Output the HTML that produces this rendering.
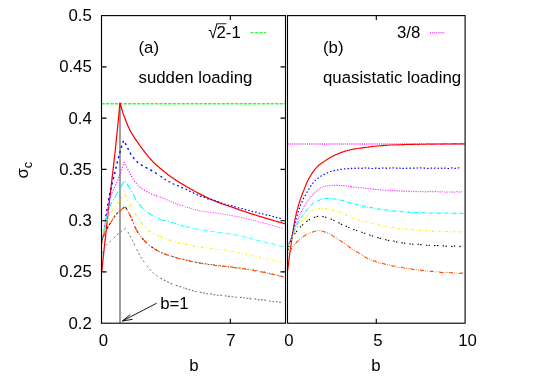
<!DOCTYPE html>
<html><head><meta charset="utf-8"><title>plot</title>
<style>
html,body{margin:0;padding:0;background:#fff;}
svg{display:block}
text{font-family:"Liberation Sans",sans-serif;font-size:16.8px;fill:#000}
</style></head><body>
<svg width="545" height="377" viewBox="0 0 545 377">
<rect width="545" height="377" fill="#fff"/>
<g stroke-linecap="butt" stroke-linejoin="round">
<path d="M101.5 103.7H285.5" stroke="#2cff2c" stroke-width="1.35" stroke-dasharray="3.25 1.2" fill="none"/>
<path d="M288.0 144H465.1" stroke="#ff30ff" stroke-width="1.5" stroke-dasharray="0.9 1" fill="none"/>
<path d="M250.5 32.6H266" stroke="#2cff2c" stroke-width="1.35" stroke-dasharray="3.25 1.2" fill="none"/>
<path d="M430 32.7H445.2" stroke="#ff30ff" stroke-width="1.4" stroke-dasharray="0.9 1" fill="none"/>
<path d="M120 323.2V103" stroke="#777" stroke-width="1.4" fill="none"/>
<path d="M101.7 271.8L102.7 262.8L103.6 253.8L104.6 244.9L105.6 236.1L106.0 232.0L106.5 227.3L107.5 218.7L108.4 210.2L109.4 201.7L110.4 193.2L110.9 188.5L111.3 184.7L112.3 176.3L113.3 167.9L114.2 159.5L115.2 150.8L115.7 146.0L116.1 141.8L117.1 132.4L118.1 122.8L119.0 113.0L120.0 102.9L121.0 106.5L122.0 109.9L122.8 112.5L123.0 113.1L124.0 115.9L125.0 118.6L126.0 121.1L126.1 121.4L127.0 123.5L128.0 125.9L129.0 128.1L130.0 130.2L130.6 131.4L131.0 132.0L131.9 133.7L132.8 135.0L132.9 135.2L133.9 136.8L134.9 138.3L135.9 139.8L136.9 141.3L137.2 141.7L137.9 142.7L138.9 144.2L139.9 145.6L140.9 146.9L141.9 148.3L142.8 149.5L142.9 149.6L143.9 151.0L144.9 152.3L145.9 153.6L146.9 154.9L147.9 156.1L148.4 156.7L148.9 157.3L149.9 158.4L150.9 159.5L151.9 160.6L152.9 161.7L153.9 162.7L154.0 162.8L154.9 163.6L155.8 164.5L156.8 165.4L157.8 166.3L158.8 167.1L159.8 168.0L160.8 168.8L161.7 169.5L161.8 169.6L162.8 170.4L163.8 171.2L164.8 172.0L165.8 172.8L166.8 173.6L167.8 174.4L168.8 175.2L169.8 175.9L170.7 176.6L170.8 176.7L171.8 177.4L172.8 178.1L173.8 178.8L174.8 179.4L175.0 179.6L175.8 180.1L176.8 180.7L177.8 181.4L178.8 182.0L179.7 182.6L180.7 183.2L181.7 183.8L182.7 184.4L183.7 184.9L184.7 185.5L185.7 186.1L185.9 186.2L186.7 186.7L187.7 187.3L188.7 187.8L189.7 188.4L190.7 189.0L191.7 189.5L192.7 190.1L193.7 190.7L194.7 191.2L195.7 191.8L196.7 192.3L197.7 192.9L198.7 193.4L199.7 193.9L200.7 194.4L201.7 194.9L201.8 195.0L202.7 195.4L203.6 195.9L204.6 196.4L205.6 196.9L206.6 197.3L207.6 197.8L208.6 198.2L209.6 198.7L210.6 199.1L211.6 199.6L212.6 200.0L213.6 200.4L214.6 200.8L215.6 201.3L216.6 201.7L217.6 202.1L217.7 202.1L218.6 202.4L219.6 202.8L220.6 203.2L221.6 203.6L222.6 203.9L223.6 204.3L224.6 204.6L225.6 205.0L226.5 205.3L227.5 205.6L228.5 206.0L229.5 206.3L230.5 206.7L231.5 207.0L232.5 207.3L233.5 207.7L233.6 207.7L234.5 208.0L235.5 208.4L236.5 208.7L237.5 209.1L238.5 209.4L239.5 209.8L240.5 210.1L241.5 210.4L242.5 210.8L243.5 211.1L244.5 211.5L245.5 211.8L246.5 212.1L247.5 212.5L248.5 212.8L249.5 213.1L250.0 213.3L250.4 213.4L251.4 213.8L252.4 214.1L253.4 214.4L254.4 214.7L255.4 215.0L256.4 215.3L257.4 215.7L258.4 216.0L259.4 216.3L260.4 216.6L261.4 216.9L262.4 217.2L263.4 217.5L264.4 217.8L265.4 218.1L266.4 218.4L267.4 218.7L268.4 219.0L269.4 219.3L270.4 219.6L271.4 219.9L272.4 220.2L273.4 220.5L274.3 220.8L275.3 221.0L276.3 221.3L277.3 221.6L278.3 221.9L279.3 222.2L280.3 222.4L281.3 222.7L282.3 223.0L283.3 223.3L284.3 223.5L285.3 223.8" fill="none" stroke="#ff0000" stroke-width="1.25"/>
<path d="M101.7 243.0L102.7 237.6L103.7 231.9L104.0 230.0L104.7 225.6L105.7 218.6L106.7 211.5L107.7 204.8L108.5 200.0L108.7 199.1L109.7 194.2L110.7 189.7L111.7 185.4L112.7 181.4L113.6 177.5L114.6 173.5L115.0 172.0L115.6 169.4L116.6 165.2L117.6 161.1L118.6 157.1L119.6 153.4L120.0 152.0L120.6 149.9L121.6 146.6L122.6 143.4L123.6 140.5L124.6 142.1L125.0 142.8L125.6 143.9L126.6 145.9L127.6 148.0L128.6 150.0L129.5 151.7L129.6 151.9L130.6 153.6L131.6 155.2L132.6 156.7L133.6 158.0L133.9 158.4L134.6 159.2L135.6 160.3L136.6 161.3L137.6 162.2L138.6 163.0L139.5 163.7L139.6 163.8L140.6 164.4L141.6 165.1L142.6 165.6L143.6 166.2L144.6 166.7L145.6 167.3L145.6 167.3L146.6 167.8L147.6 168.4L148.6 168.9L149.6 169.4L150.6 170.0L151.6 170.5L151.7 170.6L152.6 171.1L153.6 171.7L154.6 172.3L155.6 173.0L156.6 173.6L157.6 174.3L158.4 174.8L158.6 175.0L159.6 175.5" fill="none" stroke="#0000ff" stroke-width="1.4" stroke-dasharray="2.16 3.24"/>
<path d="M160.6 176.2L161.6 176.9L162.6 177.7L163.5 178.3L164.5 178.9L165.5 179.7L166.5 180.4L167.5 181.0L168.5 181.5L169.5 182.0L170.0 182.2L170.5 182.7L171.5 183.0L172.5 183.4L173.5 184.0L174.5 184.3L175.0 184.5L175.5 184.7L176.5 185.1L177.5 185.5L178.5 185.9L179.5 186.7L180.5 187.0L181.5 187.4L182.5 187.8L183.5 188.4L184.5 188.5" fill="none" stroke="#0000ff" stroke-width="1.3" stroke-dasharray="1.90 2.85"/>
<path d="M185.5 189.2L185.9 189.2L186.5 189.5L187.5 190.4L188.5 190.7L189.5 191.0L190.5 191.6L191.5 192.3L192.5 192.4L193.5 193.0L194.5 193.6L195.5 193.8L196.5 194.4L197.5 195.0L198.5 195.5L199.5 195.4L200.5 196.4L201.5 196.1L201.8 196.8L202.5 197.1L203.5 197.0L204.5 197.5L205.5 198.1L206.5 197.9L207.5 198.7L208.5 199.1L209.5 199.2" fill="none" stroke="#0000ff" stroke-width="1.22" stroke-dasharray="1.66 2.49"/>
<path d="M210.5 199.7L211.5 199.6L212.5 199.9L213.5 200.3L214.5 200.5L215.5 200.9L216.5 201.6L217.5 201.7L217.7 201.6L218.5 201.8L219.5 202.6L220.5 202.5L221.5 203.2L222.5 203.2L223.5 203.5L224.5 204.0L225.5 204.2L226.5 204.4L227.5 204.6L228.5 205.2L229.5 205.2L230.5 205.8L231.5 205.5L232.5 206.0L233.5 206.4L233.6 206.7L234.5 206.5L235.5 207.1L236.5 207.3L237.5 207.6L238.5 207.8L239.5 208.3L240.5 208.1L241.5 208.4L242.5 208.5L243.4 208.6L244.4 209.0L245.4 209.7L246.4 209.9L247.4 209.7L248.4 210.3L249.4 210.4L250.0 210.7L250.4 210.8L251.4 210.8L252.4 211.6L253.4 211.5L254.4 211.8L255.4 212.1L256.4 212.1L257.4 212.2L258.4 212.7L259.4 213.3L260.4 213.5L261.4 213.8L262.4 213.6L263.4 214.4L264.4 214.6L265.4 214.9L266.4 214.9L267.4 215.5L268.4 215.1L269.4 215.4L270.4 215.6L271.4 216.1L272.4 216.3L273.4 216.6L274.4 217.1L275.4 217.0L276.4 217.6L277.4 217.6L278.4 218.2L279.4 218.1L280.4 218.5L281.4 219.2L282.4 219.2" fill="none" stroke="#0000ff" stroke-width="1.15" stroke-dasharray="1.48 2.22"/>
<path d="M101.7 243.0L102.7 238.1L103.6 233.0L104.0 231.0L104.6 227.3L105.6 221.0L106.6 214.5L107.5 208.5L108.0 206.0L108.5 203.4L109.3 200.0L109.5 199.4L110.5 196.4L111.4 193.9L112.4 191.7L113.4 189.7L114.4 187.7L115.3 185.8L116.3 183.7L117.3 181.3L117.3 181.3L118.3 178.8L119.2 176.2L120.2 173.6L121.2 170.8L122.2 168.0L123.1 165.2L124.1 162.3L125.1 164.2L126.1 166.1L127.1 168.0L128.1 169.8L129.1 171.6L129.2 171.8L130.1 173.4L131.1 175.3L132.1 177.2L133.1 178.9L134.1 180.5L134.7 181.3L135.1 181.8L136.1 183.0L137.1 184.2L138.1 185.3L139.1 186.3L140.1 187.2L141.1 188.1L142.1 188.9L142.7 189.3L143.1 189.6L144.1 190.2L145.1 190.8L146.1 191.3L147.1 191.8L148.1 192.3L149.1 192.8L150.1 193.2L151.1 193.7L152.1 194.1L153.1 194.5L153.8 194.8L154.1 194.9L155.1 195.3L156.1 195.6L157.1 196.0L158.1 196.3L159.1 196.7" fill="none" stroke="#ff00ff" stroke-width="1.15" stroke-dasharray="1.08 1.62"/>
<path d="M160.1 197.0L161.1 197.3L162.1 197.7L163.1 198.1L164.1 198.4L165.0 198.8L165.1 198.9L166.1 199.3L167.1 199.9L168.1 200.3L169.1 200.9L170.0 201.4L170.1 201.4L171.1 201.8L172.1 202.1L173.1 202.4L174.1 202.9L175.1 203.4L176.1 203.6L177.1 203.9L178.1 204.4L179.1 204.8L180.1 205.2L181.1 205.2L182.1 205.6L183.1 206.2L184.1 206.4" fill="none" stroke="#ff00ff" stroke-width="1.07" stroke-dasharray="0.95 1.42"/>
<path d="M185.1 206.8L185.9 207.1L186.1 207.2L187.1 207.4L188.1 207.7L189.1 207.8L190.1 208.3L191.1 208.3L192.1 208.9L193.1 209.2L194.1 209.5L195.1 209.6L196.1 209.8L197.1 210.1L198.1 210.1L199.1 210.9L200.1 210.9L201.1 211.0L201.8 211.2L202.1 211.4L203.1 211.3L204.0 211.8L205.0 212.0L206.0 211.8L207.0 211.7L208.0 212.3L209.0 212.6" fill="none" stroke="#ff00ff" stroke-width="1.0" stroke-dasharray="0.83 1.24"/>
<path d="M210.0 212.1L211.0 212.6L212.0 212.8L213.0 213.0L214.0 212.5L215.0 212.6L216.0 213.4L217.0 212.9L217.7 213.1L218.0 213.4L219.0 213.5L220.0 213.8L221.0 213.6L222.0 214.3L223.0 213.9L224.0 214.5L225.0 214.2L226.0 214.6L227.0 214.5L228.0 214.8L229.0 215.0L230.0 215.5L231.0 215.5L232.0 215.4L233.0 216.2L233.6 216.3L234.0 216.4L235.0 216.1L236.0 216.4L237.0 216.5L238.0 216.6L239.0 216.8L240.0 217.3L241.0 217.3L242.0 217.5L243.0 218.2L244.0 218.2L245.0 218.2L246.0 218.8L247.0 218.7L248.0 219.2L249.0 219.2L250.0 219.6L250.0 219.7L251.0 219.9L252.0 220.0L253.0 220.5L254.0 220.8L255.0 220.6L256.0 220.8L257.0 221.0L258.0 221.9L259.0 222.1L260.0 221.9L261.0 222.6L262.0 222.4L263.0 222.8L264.0 223.1L265.0 223.6L266.0 223.3L267.0 223.8L268.0 224.2L269.0 224.1L270.0 224.5L271.0 224.9L272.0 225.5L273.0 225.7L274.0 226.0L275.0 226.3L276.0 226.5L277.0 226.9L278.0 227.1L279.0 227.4L280.0 227.4L281.0 227.6L282.0 228.3L283.0 228.2" fill="none" stroke="#ff00ff" stroke-width="0.94" stroke-dasharray="0.74 1.11"/>
<path d="M101.7 243.0L102.7 238.1L103.6 233.3L104.3 230.0L104.6 228.7L105.5 223.9L106.5 219.1L107.5 214.5L108.4 210.5L109.4 207.4L109.5 207.0L110.3 205.1L111.3 203.3L112.2 201.8L113.2 200.2L113.3 200.0L114.2 198.5L115.1 196.8L116.1 195.1L117.0 193.4L118.0 191.7L119.0 190.1L119.9 188.5L120.9 186.8L121.8 185.2L122.8 183.6L123.7 182.1L124.7 180.5L125.7 182.0L126.7 183.5L127.7 185.0L128.7 186.6L129.7 188.2L130.7 189.8L130.8 190.0L131.7 191.6L132.7 193.4L133.7 195.4L134.7 197.3L135.7 199.2L136.7 200.9L137.7 202.4L137.9 202.7L138.7 203.7L139.7 204.9L140.7 206.1L141.7 207.2L142.7 208.2L143.7 209.1L144.7 210.0L145.7 210.9L146.7 211.7L147.5 212.3L147.7 212.4L148.7 213.1L149.7 213.8L150.7 214.5L151.7 215.1L152.7 215.7L153.7 216.3L154.7 216.8L155.7 217.3L156.7 217.8L157.7 218.3L158.6 218.6L158.7 218.6L159.7 219.0" fill="none" stroke="#00ffff" stroke-width="1.1" stroke-dasharray="6.48 2.16 1.08 2.16"/>
<path d="M160.7 219.3L161.7 219.7L162.7 220.0L163.7 220.2L164.7 220.5L165.7 220.6L166.7 221.0L167.7 221.3L168.7 221.5L169.7 221.8L170.0 221.9L170.7 222.2L171.7 222.4L172.7 222.7L173.7 222.9L174.7 223.3L175.7 223.6L176.7 224.0L177.7 224.5L178.7 224.6L179.7 224.9L180.7 225.2L181.7 225.6L182.7 226.0L183.7 226.3L184.7 226.3" fill="none" stroke="#00ffff" stroke-width="1.02" stroke-dasharray="5.70 1.90 0.95 1.90"/>
<path d="M185.7 226.5L185.9 226.9L186.7 226.9L187.7 227.2L188.7 227.1L189.7 227.8L190.7 227.7L191.7 228.0L192.7 228.0L193.7 228.3L194.7 228.8L195.7 229.0L196.7 229.0L197.7 229.3L198.7 229.3L199.7 229.4L200.7 229.7L201.7 229.7L201.8 229.8L202.7 230.2L203.7 230.4L204.6 230.1L205.6 230.7L206.6 230.9L207.6 230.8L208.6 230.7L209.6 231.3" fill="none" stroke="#00ffff" stroke-width="0.96" stroke-dasharray="4.98 1.66 0.83 1.66"/>
<path d="M210.6 231.1L211.6 231.5L212.6 231.5L213.6 231.8L214.6 231.7L215.6 232.0L216.6 232.2L217.6 232.4L217.7 232.1L218.6 232.8L219.6 232.4L220.6 232.6L221.6 232.7L222.6 232.7L223.6 233.1L224.6 233.4L225.6 233.5L226.6 233.3L227.6 233.4L228.6 233.7L229.6 234.1L230.6 234.1L231.6 234.6L232.6 234.5L233.6 234.7L233.6 234.8L234.6 235.0L235.6 234.9L236.6 235.0L237.6 235.4L238.6 235.7L239.6 235.7L240.6 236.1L241.6 236.5L242.6 236.4L243.6 236.7L244.6 237.0L245.6 237.3L246.6 238.1L247.6 237.7L248.6 238.0L249.6 238.3L250.0 238.6L250.6 238.4L251.6 239.0L252.6 239.0L253.6 239.3L254.6 239.9L255.6 239.7L256.6 240.3L257.6 240.4L258.6 240.6L259.6 241.2L260.6 240.9L261.6 241.7L262.6 241.9L263.6 242.0L264.6 241.8L265.6 242.5L266.6 242.7L267.6 243.1L268.6 242.9L269.6 243.7L270.6 243.9L271.6 243.6L272.6 243.9L273.6 244.0L274.6 244.8L275.6 245.1L276.6 245.4L277.6 245.3L278.6 245.6L279.6 245.9L280.6 246.0L281.6 246.5L282.6 246.5L283.6 246.6" fill="none" stroke="#00ffff" stroke-width="0.9" stroke-dasharray="4.44 1.48 0.74 1.48"/>
<path d="M101.7 243.0L102.7 237.2L103.7 231.7L104.6 227.0L105.4 224.3L105.6 223.7L106.6 221.1L107.6 218.8L108.6 216.8L109.5 214.9L110.5 213.2L111.5 211.7L112.5 210.3L113.5 208.9L114.4 207.6L115.4 206.2L115.8 205.7L116.4 204.9L117.4 203.6L118.3 202.3L119.3 201.0L120.3 199.8L121.3 198.7L122.3 197.6L123.2 196.6L124.2 195.7L125.2 194.8L126.2 196.9L127.2 199.0L128.2 201.0L129.2 203.0L130.2 204.9L131.2 206.8L131.6 207.5L132.2 208.6L133.2 210.3L134.2 212.0L135.2 213.7L136.2 215.4L137.2 216.9L138.2 218.4L139.2 219.8L139.5 220.2L140.2 221.1L141.2 222.4L142.2 223.6L143.2 224.9L144.2 226.1L145.2 227.2L146.2 228.3L147.2 229.3L148.2 230.2L149.2 231.1L150.2 231.8L150.6 232.1L151.2 232.5L152.2 233.0L153.2 233.6L154.2 234.0L155.2 234.5L156.2 234.9L157.2 235.3L158.2 235.7L159.2 236.1" fill="none" stroke="#ffee00" stroke-width="1.2" stroke-dasharray="3.24 3.24 1.08 3.24"/>
<path d="M160.2 236.4L161.2 236.8L162.2 237.2L163.2 237.5L163.4 237.6L164.2 238.0L165.1 238.3L166.1 238.9L167.1 239.3L168.1 239.5L169.1 239.9L170.0 240.2L170.1 240.1L171.1 240.4L172.1 241.0L173.1 241.1L174.1 241.5L175.1 241.5L176.1 242.0L177.1 242.3L178.1 242.6L179.1 242.5L180.1 242.9L181.1 243.1L182.1 243.5L183.1 243.4L184.1 243.7" fill="none" stroke="#ffee00" stroke-width="1.12" stroke-dasharray="2.85 2.85 0.95 2.85"/>
<path d="M185.1 244.2L185.9 244.2L186.1 244.2L187.1 244.7L188.1 244.6L189.1 244.7L190.1 245.1L191.1 245.2L192.1 245.3L193.1 245.8L194.1 246.3L195.1 246.2L196.1 246.5L197.1 246.5L198.1 246.8L199.1 247.1L200.1 247.2L201.1 247.5L201.8 247.4L202.1 247.2L203.1 247.7L204.1 247.7L205.1 247.6L206.1 248.1L207.1 248.3L208.1 248.0L209.1 248.4" fill="none" stroke="#ffee00" stroke-width="1.04" stroke-dasharray="2.49 2.49 0.83 2.49"/>
<path d="M210.1 248.6L211.1 248.5L212.1 248.5L213.1 248.7L214.1 249.0L215.1 249.2L216.1 249.2L217.1 249.0L217.7 249.6L218.1 249.7L219.1 249.3L220.1 249.5L221.1 249.6L222.1 250.2L223.1 250.4L224.1 249.9L225.1 250.3L226.1 250.3L227.1 250.7L228.1 251.1L229.1 250.7L230.1 250.9L231.1 251.3L232.1 251.5L233.1 251.8L233.6 251.7L234.1 251.5L235.1 251.9L236.1 252.5L237.1 252.5L238.1 252.3L239.1 253.0L240.1 252.9L241.1 253.4L242.1 253.1L243.1 253.9L244.0 253.7L245.0 254.1L246.0 254.5L247.0 254.6L248.0 254.6L249.0 254.8L250.0 255.1L250.0 255.0L251.0 255.3L252.0 255.5L253.0 256.0L254.0 256.1L255.0 256.5L256.0 256.5L257.0 256.5L258.0 257.0L259.0 257.5L260.0 257.4L261.0 257.7L262.0 258.2L263.0 258.2L264.0 258.7L265.0 259.0L266.0 258.8L267.0 259.3L268.0 259.2L269.0 259.3L270.0 259.8L271.0 260.1L272.0 260.6L273.0 260.2L274.0 260.9L275.0 260.9L276.0 260.9L277.0 261.7L278.0 261.8L279.0 261.6L280.0 262.4L281.0 262.1L282.0 262.3L283.0 262.7" fill="none" stroke="#ffee00" stroke-width="0.98" stroke-dasharray="2.22 2.22 0.74 2.22"/>
<path d="M101.7 240.5L102.7 238.1L103.7 235.8L104.6 233.6L105.4 231.9L105.6 231.5L106.6 229.5L107.5 227.6L108.5 225.9L109.1 224.9L109.5 224.2L110.5 222.8L111.4 221.4L111.5 221.3L112.4 219.8L113.4 218.2L114.4 216.7L115.3 215.3L115.8 214.8L116.3 214.2L117.3 213.2L118.3 212.4L119.2 211.5L120.2 210.7L120.3 210.6L121.2 209.8L122.2 209.0L123.1 208.1L124.1 207.3L125.1 206.5L126.1 208.1L127.1 209.9L128.1 211.7L129.1 213.6L130.1 215.5L130.8 217.0L131.1 217.6L132.1 219.9L133.1 222.4L134.1 224.9L135.1 227.2L136.1 229.3L136.3 229.7L137.1 231.0L138.1 232.6L139.1 234.1L140.1 235.5L141.0 236.8L142.0 238.0L143.0 239.1L144.0 240.2L144.3 240.5L145.0 241.3L146.0 242.2L147.0 243.2L148.0 244.0L149.0 244.9L150.0 245.7L151.0 246.5L152.0 247.2L153.0 247.9L153.8 248.4L154.0 248.5L155.0 249.1L156.0 249.8L157.0 250.3L158.0 250.9L159.0 251.5L160.0 252.0" fill="none" stroke="#000000" stroke-width="1.05" stroke-dasharray="2.16 2.16 2.16 6.48"/>
<path d="M161.0 252.4L162.0 252.9L163.0 253.3L163.4 253.5L164.0 253.7L165.0 254.1L166.0 254.4L167.0 254.7L168.0 255.2L169.0 255.4L170.0 255.7L171.0 256.1L172.0 256.3L172.9 256.6L173.9 257.1L174.9 257.3L175.0 257.2L175.9 257.6L176.9 257.7L177.9 258.0L178.9 258.6L179.9 258.8L180.9 259.0L181.9 259.0L182.9 259.3L183.9 259.4L184.9 259.7" fill="none" stroke="#000000" stroke-width="0.78" stroke-dasharray="1.90 1.90 1.90 5.70"/>
<path d="M185.9 259.9L185.9 259.9L186.9 260.4L187.9 260.3L188.9 260.6L189.9 261.2L190.9 261.1L191.9 261.3L192.9 261.4L193.9 262.0L194.9 262.1L195.9 262.3L196.9 262.5L197.9 262.3L198.9 262.6L199.9 263.0L200.9 263.5L201.8 263.5L201.9 263.4L202.9 263.5L203.9 263.3L204.8 264.1L205.8 263.6L206.8 263.8L207.8 264.3L208.8 264.6L209.8 264.7" fill="none" stroke="#000000" stroke-width="0.73" stroke-dasharray="1.66 1.66 1.66 4.98"/>
<path d="M210.8 264.6L211.8 264.5L212.8 264.6L213.8 265.2L214.8 265.5L215.8 265.1L216.8 265.6L217.7 265.4L217.8 265.4L218.8 265.6L219.8 265.4L220.8 265.8L221.8 265.8L222.8 266.3L223.8 266.2L224.8 266.6L225.8 266.7L226.8 266.5L227.8 266.5L228.8 267.1L229.8 266.9L230.8 266.8L231.8 266.9L232.8 267.6L233.6 267.5L233.8 267.1L234.8 267.6L235.8 267.7L236.7 267.8L237.7 268.3L238.7 268.4L239.7 267.9L240.7 268.1L241.7 268.4L242.7 268.8L243.7 268.8L244.7 269.0L245.7 269.1L246.7 269.0L247.7 269.6L248.7 269.2L249.7 269.8L250.0 269.5L250.7 269.8L251.7 270.3L252.7 270.2L253.7 270.0L254.7 270.5L255.7 270.8L256.7 270.6L257.7 270.9L258.7 270.9L259.7 271.5L260.7 271.5L261.7 271.8L262.7 271.9L263.7 272.3L264.7 272.2L265.7 272.9L266.7 273.2L267.7 273.1L268.6 273.3L269.6 273.8L270.6 273.6L271.6 274.2L272.6 274.0L273.6 274.6L274.6 274.5L275.6 275.0L276.6 275.4L277.6 275.1L278.6 275.8L279.6 275.9L280.6 276.0L281.6 276.3L282.6 276.3L283.6 276.7" fill="none" stroke="#000000" stroke-width="0.69" stroke-dasharray="1.48 1.48 1.48 4.44"/>
<path d="M101.7 240.5L102.7 238.1L103.7 235.8L104.6 233.6L105.4 231.9L105.6 231.5L106.6 229.5L107.5 227.6L108.5 225.9L109.1 224.9L109.5 224.2L110.5 222.8L111.4 221.4L111.5 221.3L112.4 219.8L113.4 218.2L114.4 216.7L115.3 215.3L115.8 214.8L116.3 214.2L117.3 213.2L118.3 212.4L119.2 211.5L120.2 210.7L120.3 210.6L121.2 209.8L122.2 209.0L123.1 208.1L124.1 207.3L125.1 206.5L126.1 208.1L127.1 209.9L128.1 211.7L129.1 213.6L130.1 215.5L130.8 217.0L131.1 217.6L132.1 219.9L133.1 222.4L134.1 224.9L135.1 227.2L136.1 229.3L136.3 229.7L137.1 231.0L138.1 232.6L139.1 234.1L140.1 235.5L141.0 236.8L142.0 238.0L143.0 239.1L144.0 240.2L144.3 240.5L145.0 241.3L146.0 242.2L147.0 243.2L148.0 244.0L149.0 244.9L150.0 245.7L151.0 246.5L152.0 247.2L153.0 247.9L153.8 248.4L154.0 248.5L155.0 249.2L156.0 249.8L157.0 250.3L158.0 250.9L159.0 251.4L160.0 252.0" fill="none" stroke="#ff4d00" stroke-width="1.15" stroke-dasharray="1.08 2.16 6.48 2.16 1.08 2.16"/>
<path d="M161.0 252.5L162.0 252.9L163.0 253.3L163.4 253.6L164.0 253.8L165.0 254.1L166.0 254.5L167.0 254.9L168.0 255.1L169.0 255.5L170.0 255.9L171.0 256.1L172.0 256.5L172.9 256.7L173.9 257.0L174.9 257.2L175.0 257.4L175.9 257.5L176.9 257.9L177.9 258.1L178.9 258.6L179.9 258.8L180.9 258.7L181.9 259.4L182.9 259.4L183.9 259.4L184.9 259.9" fill="none" stroke="#ff4d00" stroke-width="1.12" stroke-dasharray="0.95 1.90 5.70 1.90 0.95 1.90"/>
<path d="M185.9 259.9L185.9 260.1L186.9 260.2L187.9 260.5L188.9 260.7L189.9 261.0L190.9 261.4L191.9 261.7L192.9 261.5L193.9 261.9L194.9 261.7L195.9 262.1L196.9 262.7L197.9 262.4L198.9 263.0L199.9 263.1L200.9 263.0L201.8 263.5L201.9 263.2L202.9 263.7L203.9 263.3L204.8 263.5L205.8 264.1L206.8 264.0L207.8 264.0L208.8 264.4L209.8 264.3" fill="none" stroke="#ff4d00" stroke-width="1.12" stroke-dasharray="0.83 1.66 4.98 1.66 0.83 1.66"/>
<path d="M210.8 264.6L211.8 264.9L212.8 265.1L213.8 264.7L214.8 265.2L215.8 265.6L216.8 265.4L217.7 265.7L217.8 265.2L218.8 265.9L219.8 265.8L220.8 266.2L221.8 266.2L222.8 266.4L223.8 265.9L224.8 266.5L225.8 266.3L226.8 266.4L227.8 266.6L228.8 266.9L229.8 267.0L230.8 267.3L231.8 266.8L232.8 267.1L233.6 267.3L233.8 267.6L234.8 267.6L235.8 267.7L236.7 268.0L237.7 268.0L238.7 267.9L239.7 267.9L240.7 268.3L241.7 268.7L242.7 268.7L243.7 268.4L244.7 268.8L245.7 269.0L246.7 269.2L247.7 269.4L248.7 269.8L249.7 269.5L250.0 269.6L250.7 269.9L251.7 270.3L252.7 270.3L253.7 270.3L254.7 270.7L255.7 270.7L256.7 271.2L257.7 270.9L258.7 271.0L259.7 271.7L260.7 271.5L261.7 272.1L262.7 272.1L263.7 272.2L264.7 272.1L265.7 272.8L266.7 272.6L267.7 273.4L268.6 273.6L269.6 273.4L270.6 273.5L271.6 274.2L272.6 274.2L273.6 274.2L274.6 274.7L275.6 274.7L276.6 275.1L277.6 275.5L278.6 275.9L279.6 276.1L280.6 275.9L281.6 276.4L282.6 276.6L283.6 277.2" fill="none" stroke="#ff4d00" stroke-width="1.12" stroke-dasharray="0.74 1.48 4.44 1.48 0.74 1.48"/>
<path d="M102.5 253.2L103.5 250.4L104.4 248.1L104.5 248.0L105.4 246.6L106.4 245.4L107.3 244.3L108.3 243.3L108.4 243.2L109.3 242.3L110.2 241.3L111.2 240.4L112.2 239.5L113.1 238.6L114.1 237.7L115.1 236.9L115.8 236.2L116.0 236.0L117.0 235.1L118.0 234.2L118.9 233.4L119.9 232.6L120.0 232.5L120.9 231.8L121.8 231.1L122.8 230.3L123.8 229.6L124.7 228.9L125.7 228.3L126.7 229.9L127.7 231.6L128.7 233.3L129.7 235.1L130.7 237.0L131.5 238.5L131.7 238.8L132.7 240.8L133.7 242.9L134.7 245.1L135.7 247.2L136.7 249.3L137.3 250.5L137.6 251.1L138.6 253.0L139.6 254.8L140.6 256.5L141.6 258.2L142.6 259.8L143.6 261.3L144.3 262.3L144.6 262.7L145.6 264.1L146.6 265.4L147.6 266.7L148.6 268.0L149.6 269.1L150.6 270.3L151.6 271.3L152.6 272.3L153.6 273.2L153.8 273.4L154.6 274.0L155.6 274.8L156.6 275.5L157.6 276.3L158.6 276.8L159.5 277.5" fill="none" stroke="#747474" stroke-width="1.0" stroke-dasharray="2.16 2.16 2.16 2.16 2.16 2.16 2.16 4.32"/>
<path d="M160.5 278.1L161.5 278.7L162.5 279.3L163.4 279.7L163.5 279.7L164.5 280.2L165.5 280.9L166.5 281.5L167.5 281.7L168.5 282.4L169.5 282.7L170.0 283.0L170.5 283.2L171.5 283.7L172.5 284.2L173.5 284.5L174.5 284.8L175.5 285.2L176.5 285.5L177.5 285.9L178.5 286.2L179.5 286.6L180.5 286.8L181.5 287.1L182.4 287.4L183.4 287.8L184.4 288.1" fill="none" stroke="#747474" stroke-width="1.15" stroke-dasharray="1.90 1.90 1.90 1.90 1.90 1.90 1.90 3.80"/>
<path d="M185.4 288.6L185.9 288.8L186.4 288.7L187.4 289.1L188.4 289.5L189.4 289.5L190.4 289.9L191.4 290.1L192.4 290.5L193.4 291.0L194.4 290.7L195.4 291.5L196.4 291.5L197.4 291.9L198.4 292.0L199.4 292.4L200.4 292.2L201.4 292.7L201.8 292.4L202.4 292.7L203.4 293.0L204.4 292.8L205.3 292.9L206.3 293.6L207.3 293.8L208.3 293.8L209.3 293.7" fill="none" stroke="#747474" stroke-width="1.15" stroke-dasharray="1.72 1.72 1.72 1.72 1.72 1.72 1.72 3.44"/>
<path d="M210.3 294.1L211.3 293.8L212.3 294.4L213.3 294.5L214.3 294.6L215.3 294.6L216.3 294.6L217.3 295.1L217.7 295.0L218.3 295.2L219.3 295.1L220.3 295.0L221.3 295.5L222.3 295.7L223.3 296.0L224.3 296.1L225.3 295.6L226.3 296.3L227.2 296.0L228.2 296.4L229.2 296.3L230.2 296.4L231.2 296.6L232.2 296.8L233.2 297.0L233.6 297.0L234.2 297.1L235.2 297.0L236.2 297.3L237.2 297.2L238.2 297.4L239.2 297.4L240.2 297.6L241.2 297.3L242.2 297.7L243.2 297.6L244.2 297.8L245.2 297.7L246.2 298.2L247.2 298.5L248.2 298.2L249.2 298.1L250.0 298.6L250.1 298.3L251.1 298.9L252.1 298.5L253.1 298.7L254.1 298.9L255.1 298.8L256.1 299.1L257.1 299.1L258.1 299.6L259.1 299.9L260.1 299.5L261.1 300.0L262.1 299.6L263.1 300.0L264.1 300.1L265.1 300.1L266.1 300.6L267.1 300.7L268.1 300.3L269.1 300.6L270.1 301.1L271.1 301.3L272.0 301.2L273.0 301.5L274.0 301.7L275.0 301.7L276.0 301.7L277.0 301.6L278.0 301.8L279.0 302.1L280.0 302.5L281.0 302.2L282.0 302.4L283.0 302.3" fill="none" stroke="#747474" stroke-width="1.15" stroke-dasharray="1.72 1.72 1.72 1.72 1.72 1.72 1.72 3.44"/>
<path d="M287.5 271.5L288.5 263.5L289.5 255.9L290.5 248.5L291.5 241.5L291.7 240.0L292.5 234.6L293.5 227.9L294.5 221.9L294.9 219.7L295.5 217.0L296.5 212.7L297.5 208.8L298.5 205.3L298.9 203.8L299.5 202.0L300.4 199.1L301.4 196.3L302.4 193.7L303.4 191.2L303.7 190.5L304.4 188.7L305.4 186.2L306.4 183.8L307.4 181.5L308.4 179.4L309.2 178.0L309.4 177.6L310.4 176.0L311.4 174.4L312.4 172.8L313.4 171.4L314.4 170.1L315.4 168.8L316.4 167.7L317.4 166.6L318.0 166.0L318.4 165.6L319.4 164.8L320.4 164.0L321.4 163.2L322.4 162.5L323.4 161.9L324.4 161.2L325.4 160.6L326.3 160.0L326.3 160.0L327.3 159.4L328.3 158.8L329.3 158.2L330.3 157.6L331.3 157.0L332.3 156.5L333.3 155.9L334.3 155.5L335.3 154.9L336.3 154.5L337.3 154.1L338.3 153.6L338.6 153.6L339.3 153.3L340.3 152.9L341.3 152.5L342.3 152.1L343.3 151.7L344.3 151.4L345.3 151.1L346.3 150.8L347.3 150.6L348.3 150.3L349.3 150.1L349.8 149.9L350.3 149.7L351.2 149.6L352.2 149.3L353.2 149.1L354.2 149.2L355.2 148.9L356.2 148.7L357.2 148.5L358.2 148.5L359.2 148.3L360.2 148.1L361.2 148.1L362.2 147.9L363.0 147.9L363.2 147.8L364.2 147.6L365.2 147.5L366.2 147.4L367.2 147.3L368.2 147.1L369.2 146.8L370.2 146.8L371.2 146.6L372.2 146.4L373.2 146.3L374.2 146.2L375.2 146.2L376.1 146.1L377.1 146.0L378.1 145.9L378.9 145.8L379.1 145.8L380.1 145.7L381.1 145.6L382.1 145.6L383.1 145.6L384.1 145.4L385.1 145.3L386.1 145.3L387.1 145.3L388.1 145.2L389.1 145.2L390.1 145.0L391.1 145.0L392.1 145.0L393.1 144.9L394.1 145.0L395.1 145.0L396.1 144.9L397.1 144.7L398.1 144.7L399.1 144.8L400.1 144.8L401.1 144.7L402.0 144.6L402.7 144.6L403.0 144.6L404.0 144.6L405.0 144.5L406.0 144.5L407.0 144.4L408.0 144.4L409.0 144.5L410.0 144.4L411.0 144.5L412.0 144.3L413.0 144.3L414.0 144.4L415.0 144.3L416.0 144.2L417.0 144.3L418.0 144.3L419.0 144.3L420.0 144.2L421.0 144.1L422.0 144.3L423.0 144.2L424.0 144.2L425.0 144.2L426.0 144.1L426.9 144.1L427.9 144.0L428.9 144.0L429.9 144.0L430.0 144.1L430.9 144.1L431.9 144.1L432.9 144.1L433.9 144.0L434.9 144.0L435.9 144.1L436.9 144.0L437.9 144.0L438.9 144.0L439.9 144.0L440.9 144.0L441.9 144.1L442.9 144.1L443.9 143.9L444.9 143.9L445.9 144.0L446.9 143.9L447.9 144.0L448.9 144.0L449.9 144.0L450.9 144.0L451.9 143.9L452.8 144.0L453.8 143.9L454.8 143.9L455.8 143.9L456.8 143.9L457.8 144.0L458.8 144.0L459.8 143.8L460.8 143.8L461.8 143.9L462.8 143.9L463.8 144.0L464.8 144.0" fill="none" stroke="#ff0000" stroke-width="1.15"/>
<path d="M287.8 247.0L288.8 244.6L289.8 241.9L290.8 238.9L291.7 236.0L291.8 235.7L292.8 232.1L293.8 228.1L294.8 224.0L295.7 220.5L295.8 220.3L296.8 216.8L297.8 213.5L298.7 210.3L299.7 207.4L300.5 205.4L300.7 204.8L301.7 202.5L302.7 200.3L303.7 198.3L304.7 196.4L305.7 194.6L306.7 192.8L306.8 192.7L307.7 191.1L308.7 189.4L309.7 187.8L310.7 186.2L311.7 184.7L312.7 183.3L313.7 182.1L314.7 181.0L314.8 180.9L315.7 180.1L316.7 179.2L317.7 178.4L318.7 177.7L319.7 177.0L320.6 176.3L321.6 175.7L322.6 175.2L323.6 174.7L324.3 174.3L324.6 174.2L325.6 173.7L326.6 173.2L327.6 172.8L328.6 172.3L329.6 171.9L330.6 171.5L331.6 171.2L332.6 170.8L333.6 170.7L334.6 170.5L335.5 170.3L335.6 170.1L336.6 170.1L337.6 170.0L338.6 169.5L339.6 169.4L340.6 169.3L341.6 169.3L342.5 169.0L343.5 169.1L344.5 168.9L345.5 169.0L346.5 168.8L347.5 168.9L348.5 168.5L349.5 168.8L349.8 168.8L350.5 168.7L351.5 168.2L352.5 168.8L353.5 168.5L354.5 168.2L355.5 168.3L356.5 168.3L357.5 168.3L358.5 168.1L359.5 168.1L360.5 168.1L361.5 168.4L362.5 168.2L363.0 167.9L363.5 168.2L364.4 168.0L365.4 167.9L366.4 168.5L367.4 168.1L368.4 168.2L369.4 168.1L370.4 167.9L371.4 168.5L372.4 168.5L373.4 168.0L374.4 168.1L375.4 168.1L376.4 168.0L377.4 168.3L378.4 168.4L379.4 168.4L380.4 168.3L381.4 167.9L382.4 168.0L383.4 168.2L384.4 168.3L385.3 168.1L386.3 168.2L387.3 168.4L388.3 167.9L389.3 168.0L390.3 168.1L391.3 168.5L392.3 168.0L393.3 167.9L394.3 168.1L395.3 168.3L396.3 168.0L397.3 168.4L398.3 168.0L399.3 168.3L400.0 168.0L400.3 168.5L401.3 168.0L402.3 168.4L403.3 168.4L404.3 168.0L405.3 167.9L406.3 168.3L407.2 168.2L408.2 168.2L409.2 168.4L410.2 168.2L411.2 168.2L412.2 168.2L413.2 168.2L414.2 168.1L415.2 168.0L416.2 168.1L417.2 168.0L418.2 168.0L419.2 168.4L420.2 167.9L421.2 168.0L422.2 168.2L423.2 168.1L424.2 168.0L425.2 168.1L426.2 168.2L427.2 168.3L428.2 168.5L429.1 168.4L430.1 168.2L431.1 168.2L432.1 168.1L433.1 168.0L434.1 168.5L435.1 167.9L436.1 168.0L437.1 168.3L438.1 168.3L439.1 168.0L440.1 168.5L441.1 168.1L442.1 168.3L443.1 167.9L444.1 168.5L445.1 167.9L446.1 168.1L447.1 168.5L448.1 168.5L449.1 168.5L450.1 168.4L451.0 168.0L452.0 167.9L453.0 168.2L454.0 167.9L455.0 168.5L456.0 167.9L457.0 168.1L458.0 168.0L459.0 167.9L460.0 168.2L461.0 167.9" fill="none" stroke="#0000ff" stroke-width="1.2" stroke-dasharray="1.44 2.16"/>
<path d="M287.8 247.0L288.8 244.3L289.8 241.6L290.8 238.9L291.5 237.0L291.8 236.2L292.8 233.5L293.8 230.7L294.8 228.0L294.9 227.7L295.8 225.3L296.8 222.6L297.8 220.0L298.8 217.4L299.8 215.0L300.5 213.4L300.8 212.8L301.8 210.8L302.8 208.9L303.8 207.1L304.8 205.4L305.8 203.9L306.8 202.4L306.8 202.3L307.8 200.9L308.8 199.6L309.7 198.2L310.7 197.0L311.7 195.8L312.7 194.7L313.7 193.7L314.7 192.8L314.8 192.7L315.7 191.9L316.7 191.0L317.7 190.2L318.7 189.4L319.7 188.6L320.7 187.9L321.7 187.3L322.7 186.8L323.7 186.5L324.3 186.4L324.7 186.4L325.7 186.2L326.7 186.0L327.7 185.9L328.7 185.7L329.7 185.6L330.7 185.5L331.7 185.6L332.7 185.3L333.7 185.3L334.7 185.4L335.7 185.1L336.7 185.3L337.0 185.0L337.7 185.3L338.7 185.4L339.7 185.4L340.7 185.6L341.7 185.6L342.7 185.8L343.7 185.6L344.7 185.8L345.7 185.8L346.7 185.8L347.7 186.2L348.7 186.5L349.7 186.7L350.7 186.3L351.4 187.0L351.7 186.6L352.7 186.7L353.6 187.2L354.6 187.3L355.6 187.3L356.6 187.2L357.6 187.4L358.6 187.7L359.6 187.5L360.6 188.0L361.6 188.0L362.6 187.9L363.0 188.3L363.6 188.0L364.6 188.4L365.6 188.4L366.6 188.3L367.6 188.6L368.6 188.7L369.6 188.8L370.6 188.6L371.6 189.3L372.6 189.4L373.6 188.9L374.6 189.6L375.6 189.4L376.6 189.2L377.6 189.8L378.6 189.6L378.9 189.8L379.6 190.0L380.6 189.9L381.6 189.6L382.6 190.2L383.6 190.2L384.6 190.4L385.6 190.0L386.6 190.5L387.6 190.6L388.6 190.3L389.6 190.4L390.6 190.4L391.6 190.2L392.6 190.5L393.6 190.6L394.6 190.5L395.6 191.0L396.6 190.8L397.5 190.9L398.5 190.8L399.5 190.9L400.5 191.2L401.5 191.0L402.5 191.2L402.7 191.0L403.5 191.2L404.5 191.4L405.5 191.0L406.5 191.2L407.5 191.4L408.5 191.0L409.5 191.6L410.5 191.3L411.5 191.2L412.5 191.6L413.5 191.6L414.5 191.5L415.5 191.7L416.5 191.2L417.5 191.5L418.5 191.7L419.5 191.8L420.5 191.6L421.5 191.6L422.5 191.5L423.5 191.7L424.5 191.7L425.5 191.9L426.5 191.9L427.5 191.8L428.5 192.0L429.5 191.4L430.0 191.9L430.5 191.7L431.5 191.9L432.5 191.6L433.5 191.7L434.5 192.0L435.5 191.4L436.5 191.6L437.5 191.8L438.5 192.1L439.5 191.7L440.5 192.1L441.4 191.7L442.4 191.7L443.4 191.9L444.4 192.0L445.4 192.2L446.4 192.2L447.4 191.7L448.4 192.1L449.4 192.0L450.4 191.9L451.4 192.1L452.4 192.2L453.4 191.9L454.4 192.3L455.4 191.7L456.4 191.7L457.4 192.2L458.4 191.8L459.4 192.1L460.4 192.0L461.4 191.7L462.4 192.2" fill="none" stroke="#ff00ff" stroke-width="1.1" stroke-dasharray="0.72 1.08"/>
<path d="M287.8 247.0L288.8 244.5L289.8 242.1L290.8 239.6L291.8 237.3L292.5 235.6L292.8 234.9L293.8 232.5L294.8 230.1L295.8 227.8L296.8 225.5L297.8 223.4L298.8 221.5L298.9 221.3L299.8 219.8L300.8 218.2L301.8 216.7L302.8 215.3L303.8 213.9L304.8 212.6L305.8 211.4L306.8 210.2L306.8 210.2L307.8 209.1L308.8 207.9L309.8 206.7L310.8 205.6L311.8 204.6L312.8 203.7L313.8 202.9L314.8 202.3L314.8 202.3L315.8 201.8L316.8 201.3L317.8 200.9L318.8 200.4L319.8 200.0L320.8 199.6L321.8 199.3L322.8 199.0L323.8 198.8L324.8 198.6L325.8 198.4L326.8 198.3L327.5 198.4L327.8 198.2L328.8 198.2L329.8 198.3L330.8 198.5L331.8 198.7L332.7 198.8L333.7 198.8L334.7 199.0L335.7 199.2L336.7 199.3L337.7 199.4L338.6 199.4L338.7 199.5L339.7 199.9L340.7 200.1L341.7 200.4L342.7 200.3L343.7 201.0L344.7 201.0L345.7 201.7L346.7 201.8L347.7 202.1L348.7 202.5L349.7 202.7L350.7 203.0L351.4 202.9L351.7 203.3L352.7 203.4L353.7 203.4L354.7 203.8L355.7 204.3L356.7 204.4L357.7 205.1L358.7 204.9L359.7 205.1L360.7 206.0L361.7 205.8L362.7 206.1L363.0 206.0L363.7 206.1L364.7 206.5L365.7 207.0L366.7 206.6L367.7 207.4L368.7 207.7L369.7 207.6L370.7 207.6L371.7 207.7L372.7 207.8L373.7 208.1L374.7 208.6L375.7 208.2L376.7 208.9L377.7 208.9L378.7 208.6L378.9 208.7L379.7 209.3L380.7 209.4L381.7 209.3L382.7 209.8L383.7 209.5L384.7 209.7L385.7 209.7L386.7 210.2L387.7 209.9L388.7 210.1L389.7 210.6L390.7 210.6L391.7 210.8L392.7 211.0L393.7 211.0L394.7 210.8L395.7 211.2L396.7 210.9L397.7 211.1L398.7 211.4L399.7 211.2L400.7 211.3L401.7 211.7L402.7 211.9L402.7 211.6L403.7 211.7L404.7 211.6L405.7 211.9L406.7 212.0L407.7 212.3L408.7 211.7L409.7 212.4L410.7 212.5L411.7 212.1L412.7 212.4L413.7 212.6L414.7 212.5L415.7 212.3L416.7 212.5L417.7 212.8L418.7 212.3L419.6 212.6L420.6 212.3L421.6 212.9L422.6 212.9L423.6 212.4L424.6 212.9L425.6 212.9L426.6 212.5L426.6 212.8L427.6 213.0L428.6 212.7L429.6 212.9L430.6 213.2L431.6 213.0L432.6 212.9L433.6 212.7L434.6 212.7L435.6 213.3L436.6 213.2L437.6 213.3L438.6 213.1L439.6 213.2L440.6 213.1L441.6 213.3L442.6 213.0L443.6 213.2L444.6 213.2L445.6 213.3L446.6 213.0L447.6 212.9L448.6 213.0L449.6 213.1L450.6 213.6L451.6 213.5L452.6 213.5L453.6 213.3L454.6 213.1L455.6 213.3L456.6 213.6L457.6 213.4L458.6 213.5L459.6 213.3L460.6 213.1L461.6 213.5L462.6 213.4L463.6 213.3" fill="none" stroke="#00ffff" stroke-width="1.05" stroke-dasharray="4.32 1.44 0.72 1.44"/>
<path d="M287.8 247.0L288.8 244.9L289.8 242.8L290.8 240.7L291.7 238.8L291.8 238.6L292.8 236.4L293.8 234.1L294.8 231.8L295.8 229.7L296.8 227.8L297.3 226.9L297.8 226.2L298.8 224.8L299.8 223.5L300.8 222.2L301.8 221.1L302.8 220.0L303.8 219.0L304.8 218.0L305.3 217.4L305.8 216.9L306.8 215.8L307.8 214.7L308.8 213.6L309.7 212.6L310.7 211.7L311.7 210.9L312.7 210.4L313.2 210.2L313.7 210.0L314.7 209.7L315.7 209.4L316.7 209.1L317.7 208.9L318.7 208.7L319.7 208.5L320.7 208.4L321.7 208.3L322.7 208.3L322.7 208.3L323.7 208.3L324.7 208.5L325.7 208.6L326.7 208.6L327.7 209.0L328.7 209.2L329.7 209.4L330.7 209.7L331.7 209.9L332.7 210.2L333.7 210.4L334.7 210.9L335.5 211.1L335.7 210.9L336.7 211.5L337.7 211.6L338.7 211.9L339.7 212.3L340.7 212.8L341.7 213.1L342.7 213.5L343.7 213.8L344.7 214.4L345.7 215.1L346.6 215.0L346.7 215.3L347.7 215.8L348.7 215.9L349.7 216.5L350.7 217.4L351.7 217.9L352.7 218.3L353.6 218.2L354.6 219.0L355.0 218.9L355.6 218.9L356.6 219.3L357.6 219.9L358.6 220.1L359.6 220.0L360.6 220.0L361.6 220.8L362.6 221.1L363.0 220.8L363.6 220.8L364.6 221.2L365.6 221.6L366.6 221.7L367.6 221.9L368.6 222.1L369.6 222.4L370.6 222.5L371.6 222.9L372.6 223.6L373.6 223.2L374.6 224.0L375.6 224.3L376.6 224.2L377.6 224.6L378.6 224.5L378.9 224.9L379.6 225.1L380.6 225.3L381.6 225.3L382.6 225.9L383.6 226.0L384.6 226.0L385.6 226.3L386.6 226.2L387.6 226.9L388.6 226.8L389.6 227.2L390.6 227.0L391.6 227.6L392.6 227.2L393.6 227.6L394.6 227.5L395.6 227.7L396.6 228.3L397.5 227.9L398.5 228.3L399.5 228.3L400.5 228.9L401.5 228.5L402.5 228.8L402.7 229.1L403.5 229.1L404.5 229.2L405.5 229.5L406.5 229.0L407.5 229.5L408.5 229.7L409.5 229.8L410.5 229.8L411.5 229.5L412.5 229.6L413.5 230.1L414.5 230.1L415.5 229.9L416.5 229.8L417.5 230.3L418.5 230.0L419.5 230.6L420.5 230.3L421.5 230.7L422.5 230.3L423.5 230.6L424.5 230.4L425.5 230.9L426.5 230.8L426.6 230.6L427.5 231.2L428.5 231.0L429.5 230.8L430.5 231.2L431.5 230.9L432.5 231.4L433.5 231.0L434.5 231.5L435.5 230.9L436.5 231.4L437.5 231.2L438.5 231.3L439.5 231.5L440.5 231.1L441.4 231.3L442.4 231.2L443.4 231.7L444.4 231.4L445.4 231.6L446.4 231.5L447.4 231.5L448.4 232.0L449.4 231.8L450.4 231.9L451.4 232.0L452.4 232.1L453.4 231.7L454.4 231.6L455.4 231.9L456.4 231.7L457.4 231.6L458.4 232.3L459.4 232.1L460.4 231.9L461.4 231.7L462.4 232.2" fill="none" stroke="#ffee00" stroke-width="1.15" stroke-dasharray="2.16 2.16 0.72 2.16"/>
<path d="M288.0 250.0L289.0 246.3L290.0 243.0L291.0 240.2L291.5 239.0L292.0 238.0L293.0 236.3L294.0 234.8L295.0 233.5L295.7 232.5L296.0 232.1L297.0 230.9L298.0 229.6L299.0 228.4L300.0 227.3L301.0 226.3L302.0 225.3L302.0 225.3L302.9 224.5L303.9 223.6L304.9 222.7L305.9 222.0L306.9 221.2L307.9 220.5L308.9 220.0L309.9 219.4L310.0 219.4L310.9 219.0L311.9 218.5L312.9 218.0L313.9 217.6L314.9 217.2L315.9 216.9L316.9 216.6L317.9 216.4L318.9 216.2L319.6 216.2L319.9 216.2L320.9 216.3L321.9 216.4L322.9 216.6L323.9 216.8L324.9 217.1L325.9 217.3L326.9 217.7L327.9 218.0L328.9 218.3L329.9 218.6L330.7 218.9L330.9 219.1L331.8 219.5L332.8 219.9L333.8 220.3L334.8 220.6L335.8 221.2L336.8 221.9L337.8 222.4L338.8 222.7L339.8 223.4L340.8 223.9L341.8 224.5L341.8 224.1L342.8 224.7L343.8 225.1L344.8 225.6L345.8 226.0L346.8 226.4L347.8 226.6L348.8 227.6L349.8 228.0L350.8 228.5L351.4 228.3L351.8 228.5L352.8 229.1L353.8 229.7L354.8 229.8L355.8 230.0L356.8 230.6L357.8 231.2L358.8 231.5L359.8 231.9L360.7 231.9L361.7 232.1L362.7 232.9L363.0 232.9L363.7 233.2L364.7 233.2L365.7 233.5L366.7 233.8L367.7 234.6L368.7 235.0L369.7 235.0L370.7 235.7L371.7 235.7L372.7 236.1L373.7 236.5L374.7 236.6L375.7 236.9L376.7 237.2L377.7 237.5L378.7 238.0L378.9 237.7L379.7 238.4L380.7 238.2L381.7 238.6L382.7 239.0L383.7 238.9L384.7 239.3L385.7 239.7L386.7 239.9L387.7 240.3L388.7 240.5L389.7 240.2L390.6 240.9L391.6 240.9L392.6 241.2L393.6 241.0L394.6 241.4L395.6 241.7L396.6 242.0L397.6 242.2L398.6 241.9L399.6 242.5L400.6 242.5L401.6 242.7L402.6 242.9L402.7 242.6L403.6 243.1L404.6 243.2L405.6 243.3L406.6 243.1L407.6 243.4L408.6 243.2L409.6 243.8L410.6 244.0L411.6 243.6L412.6 244.1L413.6 244.2L414.6 243.8L415.6 244.5L416.6 244.3L417.6 244.3L418.6 244.2L419.5 244.8L420.5 244.6L421.5 244.8L422.5 244.6L423.5 245.0L424.5 244.9L425.5 245.3L426.5 245.2L426.6 245.3L427.5 245.0L428.5 244.9L429.5 245.5L430.5 245.6L431.5 245.5L432.5 245.7L433.5 245.6L434.5 245.6L435.5 245.5L436.5 245.5L437.5 245.6L438.5 245.5L439.5 245.7L440.5 245.8L441.5 245.5L442.5 245.8L443.5 245.7L444.5 246.0L445.5 246.2L446.5 246.1L447.5 246.2L448.4 246.1L449.4 245.9L450.4 246.0L451.4 246.4L452.4 246.5L453.4 246.0L454.4 245.9L455.4 246.6L456.4 246.5L457.4 246.3L458.4 246.5L459.4 246.4L460.4 246.6L461.4 246.1L462.4 246.3" fill="none" stroke="#000000" stroke-width="1.1" stroke-dasharray="1.44 1.44 1.44 4.32"/>
<path d="M288.6 253.6L289.6 251.8L290.6 250.2L291.6 248.6L292.5 247.3L292.6 247.2L293.6 245.9L294.6 244.6L295.6 243.5L296.6 242.4L297.5 241.3L298.5 240.4L298.9 240.1L299.5 239.6L300.5 238.7L301.5 237.9L302.5 237.2L303.5 236.5L304.5 235.8L305.5 235.2L306.5 234.6L307.5 234.1L308.4 233.7L308.5 233.7L309.5 233.2L310.5 232.8L311.5 232.4L312.5 232.0L313.5 231.7L314.5 231.3L315.4 231.1L316.4 230.8L317.4 230.7L318.4 230.6L318.8 230.6L319.4 230.6L320.4 230.7L321.4 230.9L322.4 231.2L323.4 231.5L324.4 231.8L325.4 232.3L326.4 232.5L327.4 233.0L327.5 233.0L328.4 233.4L329.4 233.8L330.4 234.3L331.4 234.8L332.4 235.6L333.3 236.2L334.3 236.8L335.3 237.4L336.3 238.0L337.0 238.6L337.3 238.8L338.3 239.4L339.3 240.2L340.3 240.7L341.3 241.1L342.3 242.0L343.3 242.5L344.3 243.3L345.3 244.0L346.3 244.7L346.6 245.2L347.3 245.6L348.3 246.0L349.3 247.0L350.2 247.7L351.2 248.3L352.2 248.9L353.2 249.8L354.2 250.2L355.0 250.4L355.2 250.7L356.2 251.6L357.2 252.0L358.2 252.6L359.2 253.2L360.2 253.6L361.2 254.1L362.2 254.7L363.0 255.6L363.2 255.5L364.2 256.2L365.2 257.2L366.2 257.6L367.0 258.2L367.2 258.3L368.1 258.9L369.1 258.7L370.1 259.4L371.1 260.2L372.1 260.2L373.1 260.9L374.1 260.8L375.1 261.0L376.1 261.9L377.1 261.9L378.1 262.3L378.9 262.8L379.1 262.4L380.1 263.2L381.1 263.0L382.1 263.2L383.1 263.5L384.1 263.9L385.0 264.1L386.0 264.7L387.0 264.3L388.0 264.6L389.0 264.9L390.0 265.4L391.0 265.8L392.0 265.8L393.0 266.1L394.0 266.3L395.0 266.1L396.0 266.4L397.0 267.1L398.0 266.9L399.0 267.5L400.0 267.3L401.0 267.3L402.0 267.3L402.7 267.6L402.9 267.7L403.9 268.0L404.9 268.1L405.9 268.3L406.9 268.4L407.9 268.3L408.9 268.6L409.9 269.2L410.9 268.7L411.9 269.3L412.9 269.3L413.9 269.6L414.9 269.5L415.9 269.6L416.9 269.8L417.9 270.2L418.9 269.9L419.9 269.9L420.8 270.0L421.8 270.7L422.8 270.4L423.8 270.4L424.8 270.8L425.8 271.1L426.6 271.0L426.8 270.7L427.8 271.0L428.8 271.0L429.8 270.9L430.8 271.6L431.8 271.4L432.8 271.2L433.8 271.9L434.8 272.0L435.8 272.0L436.8 271.7L437.7 271.7L438.7 272.0L439.7 272.1L440.7 272.4L441.7 272.6L442.7 272.6L443.7 272.3L444.7 272.5L445.7 272.3L446.7 272.6L447.7 272.3L448.7 272.4L449.7 272.5L450.5 272.7L450.7 272.7L451.7 273.0L452.7 272.6L453.7 272.7L454.7 273.1L455.6 273.2L456.6 273.2L457.6 273.3L458.6 273.3L459.6 273.2L460.6 273.4L461.6 273.0L462.6 273.1L463.6 273.5" fill="none" stroke="#ff4d00" stroke-width="1.1" stroke-dasharray="0.72 1.44 4.32 1.44 0.72 1.44"/>
</g>
<g stroke="#000" stroke-width="1.12" fill="none">
<rect x="101.5" y="15.6" width="184.0" height="307.6"/>
<rect x="287.5" y="15.6" width="177.6" height="307.6"/>
<path d="M101.5 66.9h5M285.5 66.9h-5"/>
<path d="M101.5 118.1h5M285.5 118.1h-5"/>
<path d="M101.5 169.4h5M285.5 169.4h-5"/>
<path d="M101.5 220.7h5M285.5 220.7h-5"/>
<path d="M101.5 271.9h5M285.5 271.9h-5"/>
<path d="M230.3 323.2v-4.5M230.3 15.6v4.5M376.3 323.2v-4.5M376.3 15.6v4.5"/>
<path d="M156.7 303.2L122.4 321M130.3 314.5L122.4 321L132.6 319.3" stroke-width="0.9"/>
</g>
<g>
<text x="91.8" y="21.0" text-anchor="end">0.5</text><text x="91.8" y="72.3" text-anchor="end">0.45</text><text x="91.8" y="123.5" text-anchor="end">0.4</text><text x="91.8" y="174.8" text-anchor="end">0.35</text><text x="91.8" y="226.1" text-anchor="end">0.3</text><text x="91.8" y="277.3" text-anchor="end">0.25</text><text x="91.8" y="328.6" text-anchor="end">0.2</text>
<text x="103.5" y="345.5" text-anchor="middle">0</text>
<text x="231" y="345.5" text-anchor="middle">7</text>
<text x="289" y="345.5" text-anchor="middle">0</text>
<text x="378" y="345.5" text-anchor="middle">5</text>
<text x="467.5" y="345.5" text-anchor="middle">10</text>
<text x="194" y="370.5" text-anchor="middle">b</text>
<text x="376" y="370.5" text-anchor="middle">b</text>
<text x="138.5" y="52.9">(a)</text>
<text x="138.5" y="83.1">sudden loading</text>
<text x="323" y="52.9">(b)</text>
<text x="323" y="83.1">quasistatic loading</text>
<text x="160.2" y="308.7">b=1</text>
<text x="420.3" y="38.4" text-anchor="end">3/8</text>
<text x="216.5" y="38.3">2-1</text>
<text transform="translate(208.3 38.4) scale(0.9 1)" style="font-size:19px">√</text><path d="M217.3 23.75H226.4" stroke="#000" stroke-width="0.85" fill="none"/>
<text transform="translate(27.5 178.6) rotate(-90)">σ<tspan font-size="12.8px" dy="4.3">c</tspan></text>
</g>
</svg>
</body></html>
